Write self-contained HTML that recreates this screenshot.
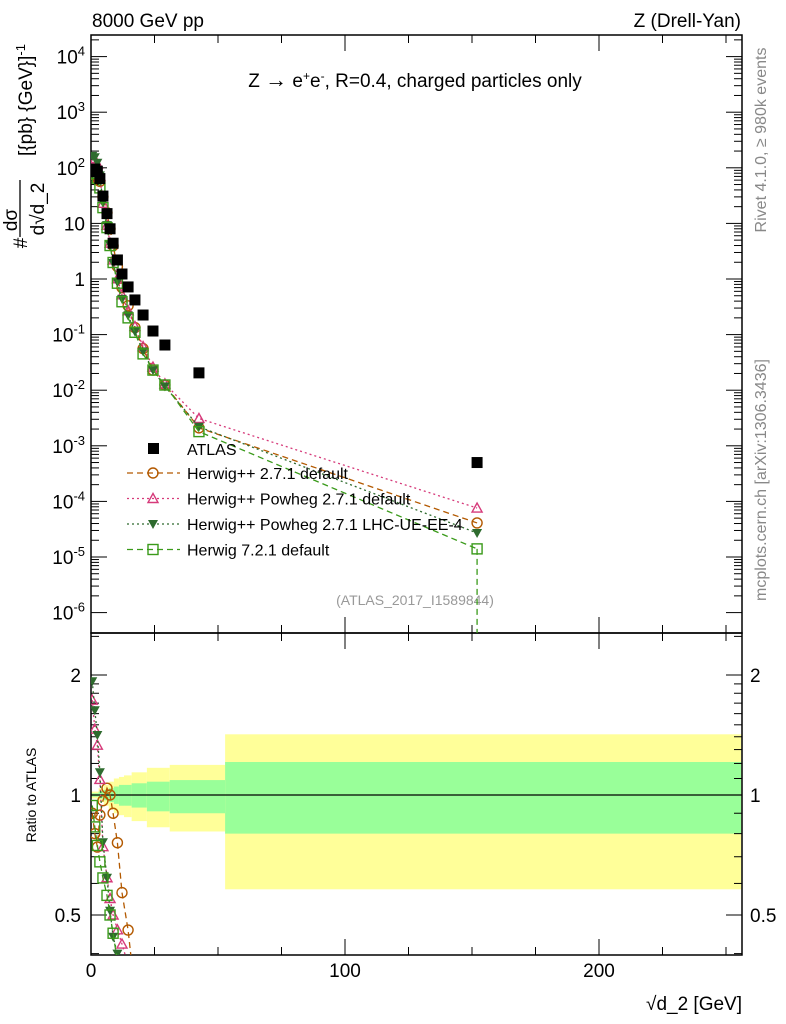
<!DOCTYPE html>
<html><head><meta charset="utf-8">
<style>
html,body{margin:0;padding:0;background:#fff;overflow:hidden;width:786px;height:1024px;}
svg{display:block;font-family:"Liberation Sans",sans-serif;}
</style></head>
<body>
<svg id="chart" width="786" height="1024" viewBox="0 0 786 1024">
<text x="92" y="27" font-size="19">8000 GeV pp</text>
<text x="741" y="27" font-size="19" text-anchor="end">Z (Drell-Yan)</text>
<text x="415" y="87" font-size="19" text-anchor="middle">Z <tspan font-size="22">→</tspan> e<tspan dy="-7" font-size="12">+</tspan><tspan dy="7">e</tspan><tspan dy="-7" font-size="12">-</tspan><tspan dy="7">, R=0.4, charged particles only</tspan></text>
<text x="415" y="605" font-size="14" fill="#999" text-anchor="middle">(ATLAS_2017_I1589844)</text>
<text transform="translate(766,140) rotate(-90)" font-size="16" fill="#888" text-anchor="middle">Rivet 4.1.0, ≥ 980k events</text>
<text transform="translate(766,480) rotate(-90)" font-size="16" fill="#888" text-anchor="middle">mcplots.cern.ch [arXiv:1306.3436]</text>
<g>
<text transform="translate(32,100) rotate(-90)" font-size="19" text-anchor="middle">[{pb} {GeV}]<tspan dy="-7" font-size="13">-1</tspan></text>
<text transform="translate(17,220) rotate(-90)" font-size="19" text-anchor="middle">dσ</text>
<line x1="20" y1="237" x2="20" y2="180" stroke="#000" stroke-width="1.3"/>
<text transform="translate(44,209) rotate(-90)" font-size="19" text-anchor="middle">d√d_2</text>
<text transform="translate(27,243) rotate(-90)" font-size="19" text-anchor="middle">#</text>
</g>
<text transform="translate(36,795) rotate(-90)" font-size="14" text-anchor="middle">Ratio to ATLAS</text>
<text x="742" y="1010" font-size="19" text-anchor="end">√d_2 [GeV]</text>
<g id="g"></g>
</svg>
<script>
const xs=[0.5,1.5,2.5,3.5,4.7,6.3,7.5,8.7,10.4,12.2,14.6,17.3,20.5,24.4,29.1,42.5,152];
const atlas=[85,95,87,64,31,15,8,4.4,2.2,1.23,0.72,0.42,0.225,0.116,0.065,0.0205,5.0e-4];
const hppDefault=[76.5,76,64.4,57,30,15.6,8,3.96,1.67,0.70,0.33,0.134,0.056,0.023,0.0124,0.0021,4.1e-5];
const powhegDefault=[147,139,116,70,23,9.3,4.4,2.2,1.01,0.52,0.27,0.14,0.061,0.026,0.013,0.0031,7.6e-5];
const powhegUE=[164,155,123,73,23.6,9.3,4.1,1.94,0.88,0.44,0.22,0.113,0.05,0.023,0.0117,0.0022,2.7e-5];
const h7Default=[80,79,65,43.5,19.2,8.4,4.0,1.98,0.84,0.39,0.2,0.11,0.045,0.023,0.0124,0.0018,1.4e-5];
const bandEdges=[0,3,5,7,9,11,13,16,22,31,52.8,256];
const yellowUp=[1.02,1.04,1.06,1.08,1.10,1.11,1.12,1.14,1.17,1.19,1.42];
const yellowDn=[0.98,0.96,0.94,0.92,0.90,0.89,0.88,0.86,0.83,0.81,0.58];
const greenUp=[1.01,1.02,1.03,1.04,1.05,1.06,1.06,1.07,1.08,1.09,1.21];
const greenDn=[0.99,0.98,0.97,0.96,0.95,0.94,0.94,0.93,0.91,0.90,0.80];
const xTicks=[0,100,200];

const L=91,R=742,T=35,M=633,B=955;
const X=v=>L+v*2.54;
const Y=v=>279-55.6*Math.log10(v);
const YR=v=>795-398.6*Math.log10(v);
const NS="http://www.w3.org/2000/svg";
const g=document.getElementById('g');
function el(t,a,p){const e=document.createElementNS(NS,t);for(const k in a)e.setAttribute(k,a[k]);(p||g).appendChild(e);return e;}

const bandG=el('g',{});


for(let i=0;i<yellowUp.length;i++){
  const x1=X(bandEdges[i]),x2=Math.min(X(bandEdges[i+1]),R);
  const y=el('rect',{x:x1,y:YR(yellowUp[i]),width:x2-x1,height:YR(yellowDn[i])-YR(yellowUp[i]),fill:'#ffff99'},bandG);
  
  
  const gr=el('rect',{x:x1,y:YR(greenUp[i]),width:x2-x1,height:YR(greenDn[i])-YR(greenUp[i]),fill:'#99ff99'},bandG);
  
  
}
el('line',{x1:L,y1:YR(1),x2:R,y2:YR(1),stroke:'#000','stroke-width':1.2});

el('rect',{x:L,y:T,width:R-L,height:M-T,fill:'none',stroke:'#000','stroke-width':1.5});
el('rect',{x:L,y:M,width:R-L,height:B-M,fill:'none',stroke:'#000','stroke-width':1.5});

for(let e=-6;e<=4;e++){
  for(let m=1;m<10;m++){
    const v=m*Math.pow(10,e),y=Y(v);
    if(y<T||y>M)continue;
    const len=m==1?16:8;
    el('line',{x1:L,y1:y,x2:L+len,y2:y,stroke:'#000'});
    el('line',{x1:R,y1:y,x2:R-len,y2:y,stroke:'#000'});
  }
  const t=el('text',{x:L-6,y:Y(Math.pow(10,e))+7,'font-size':19,'text-anchor':'end'});
  
  
  if(e==0)t.textContent='1';else if(e==1)t.textContent='10';
  else{t.textContent='10';const s=el('tspan',{dy:-8,'font-size':13},t);s.textContent=e;}
}
[0.4,0.5,0.6,0.7,0.8,0.9,1,1.1,1.2,1.3,1.4,1.5,1.6,1.7,1.8,1.9,2,2.5].forEach(v=>{
  const y=YR(v);if(y<M||y>B)return;
  const len=(v==0.5||v==1||v==2)?16:8;
  el('line',{x1:L,y1:y,x2:L+len,y2:y,stroke:'#000'});
  el('line',{x1:R,y1:y,x2:R-len,y2:y,stroke:'#000'});
});
[[2,'2'],[1,'1'],[0.5,'0.5']].forEach(([v,s])=>{
  const a=el('text',{x:L-10,y:YR(v)+7,'font-size':19,'text-anchor':'end'});a.textContent=s;
  
  
  const b=el('text',{x:R+8,y:YR(v)+7,'font-size':19});b.textContent=s;
  
  
});
for(let v=0;v<=250;v+=25){
  const x=X(v);if(x>R)break;
  const len=v%100==0?16:8;
  [M,B].forEach(b=>el('line',{x1:x,y1:b,x2:x,y2:b-len,stroke:'#000'}));
  el('line',{x1:x,y1:T,x2:x,y2:T+len,stroke:'#000'});
  el('line',{x1:x,y1:M,x2:x,y2:M+len,stroke:'#000'});
}
xTicks.forEach(v=>{const t=el('text',{x:X(v),y:977,'font-size':19,'text-anchor':'middle'});t.textContent=v;
  
  });

const defs=el('defs',{});
const cp=el('clipPath',{id:'rc'},defs);el('rect',{x:L,y:M,width:R-L,height:B-M},cp);
const cm=el('clipPath',{id:'mc'},defs);el('rect',{x:L,y:T,width:R-L,height:M-T},cm);

function marker(p,type,col,x,y){
  const s=5;
  if(type=='circle')return el('circle',{cx:x,cy:y,r:s,fill:'none',stroke:col,'stroke-width':1.4},p);
  if(type=='tri')return el('polygon',{points:`${x},${y-s} ${x-s},${y+s-1} ${x+s},${y+s-1}`,fill:'none',stroke:col,'stroke-width':1.4},p);
  if(type=='tridown')return el('polygon',{points:`${x-s},${y-s+1} ${x+s},${y-s+1} ${x},${y+s}`,fill:col},p);
  if(type=='sq')return el('rect',{x:x-s,y:y-s,width:2*s,height:2*s,fill:'none',stroke:col,'stroke-width':1.4},p);
}
const series=[
 {d:hppDefault,col:'#b35900',m:'circle',dash:'6,4',name:'herwigpp-default'},
 {d:powhegDefault,col:'#d63a7a',m:'tri',dash:'2,3',name:'herwigpp-powheg-default'},
 {d:powhegUE,col:'#2e6b2e',m:'tridown',dash:'2,3',name:'herwigpp-powheg-ue'},
 {d:h7Default,col:'#3a9a1a',m:'sq',dash:'6,4',name:'herwig7-default'}];
series.forEach(s=>{
  const mg=el('g',{'clip-path':'url(#mc)'});
  
  
  el('polyline',{points:xs.map((x,i)=>X(x)+','+Y(s.d[i])).join(' '),fill:'none',stroke:s.col,'stroke-width':1.3,'stroke-dasharray':s.dash},mg);
  xs.forEach((x,i)=>{const p=marker(mg,s.m,s.col,X(x),Y(s.d[i]));
    
    });
  const rg=el('g',{'clip-path':'url(#rc)'});
  
  
  el('polyline',{points:xs.map((x,i)=>X(x)+','+YR(s.d[i]/atlas[i])).join(' '),fill:'none',stroke:s.col,'stroke-width':1.3,'stroke-dasharray':s.dash},rg);
  xs.forEach((x,i)=>{const r=s.d[i]/atlas[i];if(r<0.38)return;const p=marker(rg,s.m,s.col,X(x),YR(r));
    
    });
});
el('line',{x1:X(152),y1:Y(h7Default[16]),x2:X(152),y2:M,stroke:'#3a9a1a','stroke-width':1.3,'stroke-dasharray':'6,4'});
const ag=el('g',{'clip-path':'url(#mc)'});


xs.forEach((x,i)=>{const r=el('rect',{x:X(x)-5.5,y:Y(atlas[i])-5.5,width:11,height:11,fill:'#000'},ag);
  
  });

const lg=el('g',{});


el('rect',{x:148,y:443,width:11,height:11,fill:'#000'},lg);
let t=el('text',{x:187,y:455,'font-size':16},lg);t.textContent='ATLAS';
const labels=['Herwig++ 2.7.1 default','Herwig++ Powheg 2.7.1 default','Herwig++ Powheg 2.7.1 LHC-UE-EE-4','Herwig 7.2.1 default'];
series.forEach((s,i)=>{
  const y=473+i*25.5;
  const e=el('g',{},lg);
  
  
  el('line',{x1:127,y1:y,x2:180,y2:y,stroke:s.col,'stroke-width':1.3,'stroke-dasharray':s.dash},e);
  marker(e,s.m,s.col,153,y);
  const tx=el('text',{x:187,y:y+6,'font-size':16},e);tx.textContent=labels[i];
});
</script>
</body></html>
